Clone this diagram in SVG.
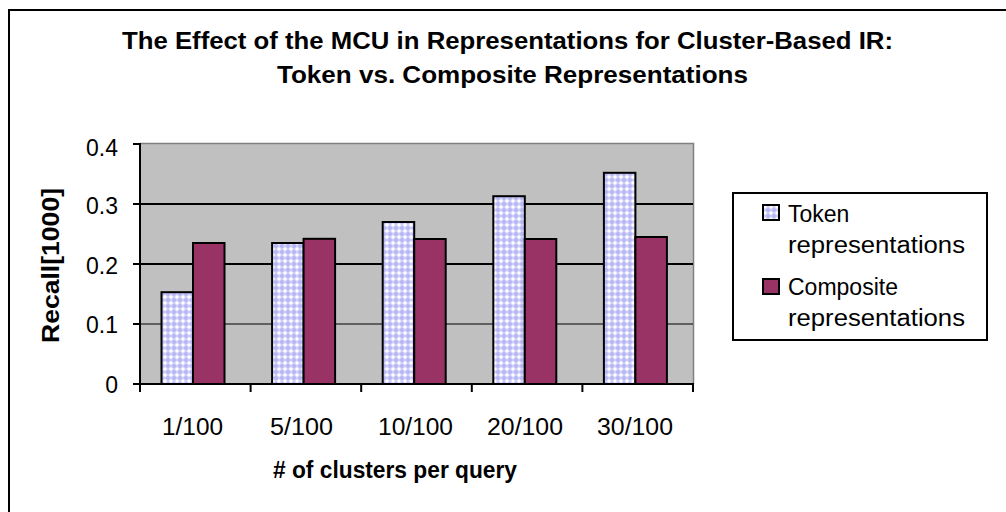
<svg xmlns="http://www.w3.org/2000/svg" width="1006" height="512" viewBox="0 0 1006 512">
  <style>
    text { font-family: "Liberation Sans", Arial, sans-serif; fill: #000; }
    .title { font-size: 23px; font-weight: bold; text-anchor: middle; }
    .axis-title { font-size: 23px; font-weight: bold; text-anchor: middle; }
    .tick { font-size: 23px; }
    .ytick { text-anchor: end; }
    .xtick { text-anchor: middle; }
    .legend-text { font-size: 23px; }
    .grid { stroke: #000; }
    .axis { stroke: #000; stroke-width: 2; fill: none; }
    .token { fill: url(#checker); stroke: #000; stroke-width: 2; }
    .composite { fill: #993366; stroke: #000; stroke-width: 2; }
  </style>
  <defs>
    <!-- lavender/white diamond hatch used by the token series -->
    <pattern id="checker" width="6" height="6" patternUnits="userSpaceOnUse">
      <rect width="6" height="6" fill="#B8B8F4"/>
      <path d="M3 0 L6 3 L3 6 L0 3 Z" fill="#E6E6FF"/>
      <rect x="2" y="2" width="2" height="2" fill="#FFFFFF"/>
    </pattern>
  </defs>

  <rect width="1006" height="512" fill="#FFFFFF"/>

  <!-- chart frame -->
  <path d="M9 512 V10 H1006" fill="none" stroke="#000" stroke-width="2"/>

  <!-- title -->
  <g id="title">
    <text class="title" x="507.5" y="49" textLength="771" lengthAdjust="spacingAndGlyphs">The Effect of the MCU in Representations for Cluster-Based IR:</text>
    <text class="title" x="512.5" y="83" textLength="471" lengthAdjust="spacingAndGlyphs">Token vs. Composite Representations</text>
  </g>

  <!-- plot area -->
  <g id="plot-area">
    <rect x="140" y="144" width="553" height="240" fill="#C0C0C0"/>
    <path d="M140 143.5 H693.5 V384" fill="none" stroke="#808080" stroke-width="1.5"/>
    <line class="grid" x1="140" y1="324" x2="693" y2="324" stroke-width="1.2"/>
    <line class="grid" x1="140" y1="264" x2="693" y2="264" stroke-width="2"/>
    <line class="grid" x1="140" y1="204" x2="693" y2="204" stroke-width="2"/>
  </g>

  <!-- bars -->
  <g id="series-token">
    <rect class="token" x="161.5" y="292.2" width="31.5" height="91.8"/>
    <rect class="token" x="272.1" y="243" width="31.5" height="141"/>
    <rect class="token" x="382.7" y="222" width="31.5" height="162"/>
    <rect class="token" x="493.3" y="196.2" width="31.5" height="187.8"/>
    <rect class="token" x="603.9" y="172.8" width="31.5" height="211.2"/>
  </g>
  <g id="series-composite">
    <rect class="composite" x="193" y="243" width="31.5" height="141"/>
    <rect class="composite" x="303.6" y="238.8" width="31.5" height="145.2"/>
    <rect class="composite" x="414.2" y="239" width="31.5" height="145"/>
    <rect class="composite" x="524.8" y="239" width="31.5" height="145"/>
    <rect class="composite" x="635.4" y="237" width="31.5" height="147"/>
  </g>

  <!-- axes -->
  <g id="axes">
    <line class="axis" x1="140" y1="143" x2="140" y2="385"/>
    <line class="axis" x1="139" y1="384" x2="694" y2="384"/>
    <path class="axis" d="M133 144 H140 M133 204 H140 M133 264 H140 M133 324 H140 M133 384 H140"/>
    <path class="axis" d="M140 384 V392 M250.6 384 V392 M361.2 384 V392 M471.8 384 V392 M582.4 384 V392 M693 384 V392"/>
  </g>

  <!-- y axis labels -->
  <g id="y-labels">
    <text class="tick ytick" x="118" y="156">0.4</text>
    <text class="tick ytick" x="118" y="214">0.3</text>
    <text class="tick ytick" x="118" y="274">0.2</text>
    <text class="tick ytick" x="118" y="333">0.1</text>
    <text class="tick ytick" x="118" y="393">0</text>
    <text class="axis-title" transform="translate(59 265.5) rotate(-90)" textLength="155" lengthAdjust="spacingAndGlyphs">Recall[1000]</text>
  </g>

  <!-- x axis labels -->
  <g id="x-labels">
    <text class="tick xtick" x="192.5" y="435" textLength="61" lengthAdjust="spacingAndGlyphs">1/100</text>
    <text class="tick xtick" x="301.5" y="435" textLength="63" lengthAdjust="spacingAndGlyphs">5/100</text>
    <text class="tick xtick" x="415.5" y="435" textLength="75" lengthAdjust="spacingAndGlyphs">10/100</text>
    <text class="tick xtick" x="525" y="435" textLength="76" lengthAdjust="spacingAndGlyphs">20/100</text>
    <text class="tick xtick" x="635" y="435" textLength="76" lengthAdjust="spacingAndGlyphs">30/100</text>
    <text class="axis-title" x="395" y="478" textLength="244" lengthAdjust="spacingAndGlyphs"># of clusters per query</text>
  </g>

  <!-- legend -->
  <g id="legend">
    <rect x="733" y="193" width="254" height="147" fill="#FFFFFF" stroke="#000" stroke-width="2"/>
    <g id="legend-token">
      <rect class="token" x="763" y="205" width="16" height="15"/>
      <text class="legend-text" x="788" y="222">Token</text>
      <text class="legend-text" x="788" y="253" textLength="177" lengthAdjust="spacingAndGlyphs">representations</text>
    </g>
    <g id="legend-composite">
      <rect class="composite" x="763" y="279" width="16" height="15"/>
      <text class="legend-text" x="788" y="295">Composite</text>
      <text class="legend-text" x="788" y="326" textLength="177" lengthAdjust="spacingAndGlyphs">representations</text>
    </g>
  </g>
</svg>
